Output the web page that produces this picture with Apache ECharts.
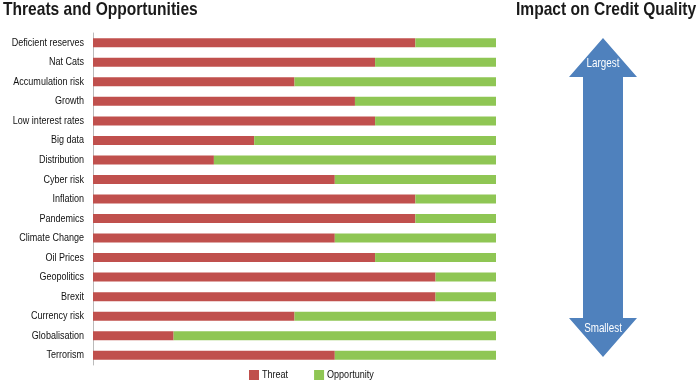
<!DOCTYPE html>
<html><head><meta charset="utf-8">
<script src="https://cdn.jsdelivr.net/npm/echarts@6/dist/echarts.min.js"></script>
<style>html,body{margin:0;padding:0;background:#fff}#c{width:700px;height:384px}</style>
</head><body><div id="c"></div>
<script>
const categories = ["Deficient reserves","Nat Cats","Accumulation risk","Growth","Low interest rates","Big data","Distribution","Cyber risk","Inflation","Pandemics","Climate Change","Oil Prices","Geopolitics","Brexit","Currency risk","Globalisation","Terrorism"];
const threat = [80,70,50,65,70,40,30,60,80,80,60,70,85,85,50,20,60];
const opportunity = [20,30,50,35,30,60,70,40,20,20,40,30,15,15,50,80,40];
const seriesNames = ["Threat","Opportunity"];

// Condensed text look: draw text narrowed horizontally (Helvetica Condensed is not installed)
(function(){
  const SX = 0.82;
  const P = CanvasRenderingContext2D.prototype;
  const oM = P.measureText, oF = P.fillText;
  P.measureText = function(t){
    const m = oM.call(this, t);
    const r = {};
    for (const k in m) r[k] = m[k];
    r.width = m.width * SX;
    if (m.actualBoundingBoxLeft !== undefined) { r.actualBoundingBoxLeft = m.actualBoundingBoxLeft*SX; r.actualBoundingBoxRight = m.actualBoundingBoxRight*SX; }
    return r;
  };
  P.fillText = function(t, x, y, mw){
    this.save(); this.translate(x, y); this.scale(SX, 1);
    if (mw !== undefined) oF.call(this, t, 0, 0, mw / SX); else oF.call(this, t, 0, 0);
    this.restore();
  };
})();

const FONT = '"Liberation Sans",Arial,sans-serif';
const chart = echarts.init(document.getElementById('c'));
chart.setOption({
  animation:false,
  title:[
    {text:'Threats and Opportunities',left:3,top:2,padding:0,textStyle:{fontFamily:FONT,fontWeight:'bold',fontSize:19,color:'#1a1a1a'}},
    {text:'Impact on Credit Quality',left:516,top:2,padding:0,textStyle:{fontFamily:FONT,fontWeight:'bold',fontSize:19,color:'#1a1a1a'}}
  ],
  legend:{data:seriesNames,left:249,top:370,padding:0,itemWidth:10,itemHeight:10,itemGap:26,icon:'rect',
    textStyle:{fontFamily:FONT,fontSize:11,color:'#111',padding:[0,0,0,-2]}},
  grid:{left:93,right:204,top:33,bottom:19,containLabel:false,outerBoundsMode:'none'},
  xAxis:{type:'value',min:0,max:100,show:false},
  yAxis:{type:'category',data:categories,inverse:true,
    axisLine:{show:true,lineStyle:{color:'#bbbbbb',width:1}},axisTick:{show:false},
    axisLabel:{fontFamily:FONT,fontSize:11,color:'#111',margin:9}},
  series:[
    {name:seriesNames[0],type:'bar',stack:'a',data:threat,barWidth:9,itemStyle:{color:'#C0504D'}},
    {name:seriesNames[1],type:'bar',stack:'a',data:opportunity,barWidth:9,itemStyle:{color:'#8FC654'}}
  ],
  graphic:[
    {type:'polygon',shape:{points:[[603,38],[637,77],[623,77],[623,318],[637,318],[603,357],[569,318],[583,318],[583,77],[569,77]]},
     style:{fill:'#4F81BD'}},
    {type:'text',x:603,y:64,style:{text:'Largest',fill:'#fff',font:'12px '+FONT,textAlign:'center',textVerticalAlign:'middle'}},
    {type:'text',x:603,y:329,style:{text:'Smallest',fill:'#fff',font:'12px '+FONT,textAlign:'center',textVerticalAlign:'middle'}}
  ]
});
</script></body></html>
